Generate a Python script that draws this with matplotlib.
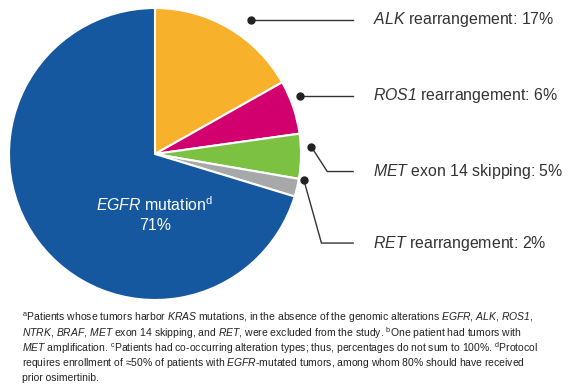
import matplotlib.pyplot as plt

plt.rcParams['font.family'] = ['Liberation Sans', 'DejaVu Sans']
plt.rcParams['mathtext.fontset'] = 'custom'
plt.rcParams['mathtext.rm'] = 'Liberation Sans'
plt.rcParams['mathtext.it'] = 'Liberation Sans:italic'
# 'bf' slot used as italic so digits (ROS1) come out slanted too
plt.rcParams['mathtext.bf'] = 'Liberation Sans:italic'

# data (clockwise from 12 o'clock)
names = ['ALK', 'ROS1', 'MET', 'RET', 'EGFR']
values = [17, 6, 5, 2, 71]
colors = ['#F8B12B', '#D1006E', '#7DC143', '#A7A8AA', '#1558A0']
labels = [r'$\mathbf{ALK}$ rearrangement: 17%',
          r'$\mathbf{ROS1}$ rearrangement: 6%',
          r'$\mathbf{MET}$ exon 14 skipping: 5%',
          r'$\mathbf{RET}$ rearrangement: 2%']

# leader lines in pie units (radius = 1): dot, elbow, text y
dots = [(0.66, 0.92), (0.99, 0.40), (1.07, 0.05), (1.02, -0.18)]
elbows = [None, None, (1.18, -0.12), (1.14, -0.61)]
text_y = [0.92, 0.40, -0.12, -0.61]
line_end_x = 1.357
text_x = 1.49

footnotes = [
    r'$^{\mathrm{a}}$Patients whose tumors harbor $\mathbf{KRAS}$ mutations, in the absence of the genomic alterations $\mathbf{EGFR}$, $\mathbf{ALK}$, $\mathbf{ROS1}$,',
    r'$\mathbf{NTRK}$, $\mathbf{BRAF}$, $\mathbf{MET}$ exon 14 skipping, and $\mathbf{RET}$, were excluded from the study. $^{\mathrm{b}}$One patient had tumors with',
    r'$\mathbf{MET}$ amplification. $^{\mathrm{c}}$Patients had co-occurring alteration types; thus, percentages do not sum to 100%. $^{\mathrm{d}}$Protocol',
    r'requires enrollment of ≈50% of patients with $\mathbf{EGFR}$-mutated tumors, among whom 80% should have received',
    'prior osimertinib.',
]

W, H = 575, 384
fig = plt.figure(figsize=(W / 100, H / 100), dpi=100)
cx, cy, r = 155, 154, 146
ax = fig.add_axes([(cx - r) / W, (H - cy - r) / H, 2 * r / W, 2 * r / H])
ax.pie(values, colors=colors, startangle=90, counterclock=False,
       wedgeprops=dict(edgecolor='white', linewidth=1.5))
ax.set_xlim(-1, 1)
ax.set_ylim(-1, 1)
ax.set_aspect('equal')
ax.axis('off')

for i in range(len(labels)):
    xs = [dots[i][0]]
    ys = [dots[i][1]]
    if elbows[i] is not None:
        xs.append(elbows[i][0])
        ys.append(elbows[i][1])
    xs.append(line_end_x)
    ys.append(text_y[i])
    ax.plot(xs, ys, color='#333333', lw=1, clip_on=False)
    ax.plot(dots[i][0], dots[i][1], 'o', color='#222222', ms=5, clip_on=False)
    ax.text(text_x, text_y[i], labels[i], fontsize=11.4, color='#333333',
            va='center', ha='left', clip_on=False)

ax.text(0, -0.35, r'$\mathbf{EGFR}$ mutation$^{\mathrm{d}}$', color='white',
        fontsize=11.4, ha='center', va='center')
ax.text(0, -0.49, '71%', color='white', fontsize=11.4, ha='center', va='center')

for i, line in enumerate(footnotes):
    fig.text(22 / W, 1 - (318 + 15 * i) / H, line, fontsize=7.5,
             color='#222222', ha='left', va='center')

fig.savefig('out.png', dpi=100)
